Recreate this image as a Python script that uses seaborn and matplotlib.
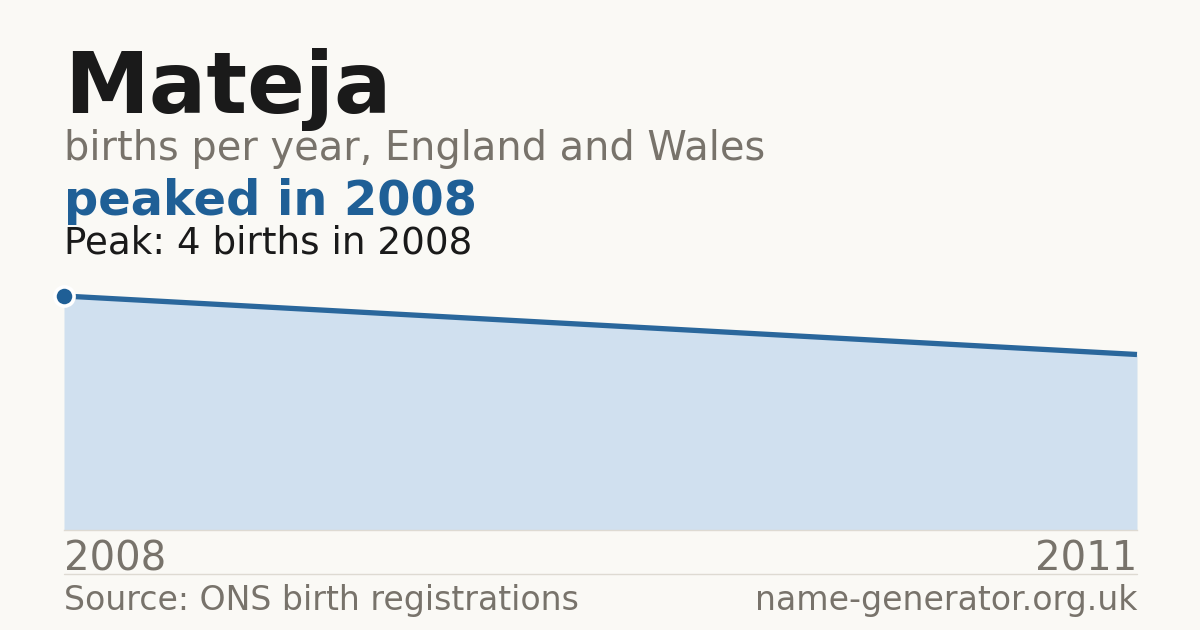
import matplotlib
matplotlib.use("Agg")
import matplotlib.pyplot as plt
import seaborn as sns
import pandas as pd

# ---- data ----
years = [2008, 2011]
births = [4, 3]
tick_years = [2008, 2011]
tick_labels = ["2008", "2011"]
name = "Mateja"
subtitle = "births per year, England and Wales"
headline = "peaked in 2008"
peak_note = "Peak: 4 births in 2008"
source = "Source: ONS birth registrations"
site = "name-generator.org.uk"

BG = "#faf9f5"
DARK = "#1a1a1a"
GRAY = "#78736b"
BLUE = "#1f5f96"
FILL = "#d0e0ef"
RULE = "#dedad2"

sns.set_theme(style="white")
plt.rcParams["font.family"] = ["DejaVu Sans"]

W, H = 1200, 630
fig = plt.figure(figsize=(W / 100, H / 100), dpi=100, facecolor=BG)

def fy(px):
    return 1 - px / H

ax_left, ax_right, ax_top, ax_bot = 64, 1137, 270, 530
ax = fig.add_axes([ax_left / W, fy(ax_bot), (ax_right - ax_left) / W, (ax_bot - ax_top) / H])
ax.set_facecolor(BG)

df = pd.DataFrame({"year": years, "births": births})
ax.fill_between(df["year"], 0, df["births"], color=FILL, linewidth=0, zorder=1)
sns.lineplot(data=df, x="year", y="births", ax=ax, color="#2a679c", linewidth=3.8,
             zorder=3, clip_on=False, solid_capstyle="butt")
peak_idx = births.index(max(births))
ax.scatter([years[peak_idx]], [births[peak_idx]], s=190, color=BLUE, edgecolor="white",
           linewidth=2.6, zorder=4, clip_on=False)

ax.set_xlim(years[0], years[-1])
ax.set_ylim(0, max(births) * (ax_bot - ax_top) / (ax_bot - 296))
ax.set_xticks(tick_years)
ax.set_xticklabels(tick_labels)
for lbl, ha in zip(ax.get_xticklabels(), ["left", "right"]):
    lbl.set_ha(ha)
ax.tick_params(axis="x", length=0, pad=7, labelsize=29, labelcolor=GRAY)
ax.set_yticks([])
ax.set_xlabel("")
ax.set_ylabel("")
for s in ["top", "right", "left"]:
    ax.spines[s].set_visible(False)
ax.spines["bottom"].set_color(RULE)
ax.spines["bottom"].set_linewidth(1)

# separator line under tick labels
fig.add_artist(plt.Line2D([ax_left / W, ax_right / W], [fy(574), fy(574)], color=RULE, lw=1))

fig.text(ax_left / W, fy(113), name, fontsize=61.4, fontweight="bold", color=DARK, va="baseline", ha="left")
fig.text(ax_left / W, fy(160), subtitle, fontsize=28.7, color=GRAY, va="baseline", ha="left")
fig.text(ax_left / W, fy(215), headline, fontsize=34.5, fontweight="bold", color=BLUE, va="baseline", ha="left")
fig.text(ax_left / W, fy(253), peak_note, fontsize=26.8, color=DARK, va="baseline", ha="left")
fig.text(ax_left / W, fy(610), source, fontsize=23.9, color=GRAY, va="baseline", ha="left")
fig.text(ax_right / W, fy(610), site, fontsize=23.9, color=GRAY, va="baseline", ha="right")

fig.savefig("out.png", dpi=100, facecolor=BG)
